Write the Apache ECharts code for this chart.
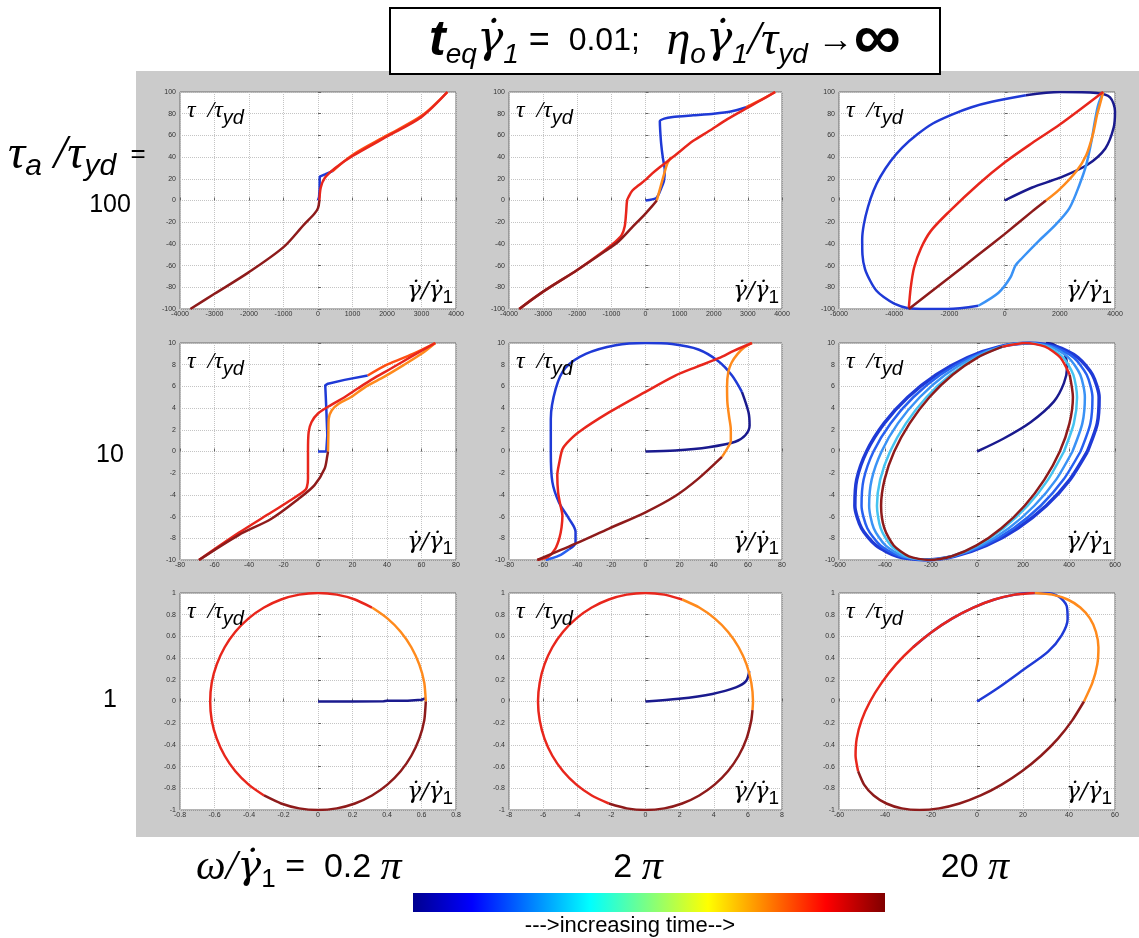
<!DOCTYPE html>
<html>
<head>
<meta charset="utf-8">
<script src="https://cdn.jsdelivr.net/npm/echarts@6/dist/echarts.min.js"></script>
<style>
  html, body { margin: 0; padding: 0; background: #fff; }
  #main { width: 1139px; height: 938px; }
</style>
</head>
<body>
<div id="main"></div>
<script>
// tick ranges [min, max, step] per panel (row-major) and per row for y
var xTicks = [
  [-4000, 4000, 1000], [-4000, 4000, 1000], [-6000, 4000, 2000],
  [-80, 80, 20], [-80, 80, 20], [-600, 600, 200],
  [-0.8, 0.8, 0.2], [-8, 8, 2], [-60, 60, 20]
]
var yTicks = [[-100, 100, 20], [-10, 10, 2], [-1, 1, 0.2]]
var rowLabels = ['100', '10', '1']
var colLabels = ['0.2', '2', '20']

// ---- tau_a = 100 ----
var r1c1_blue = [[0, 0], [30, 3], [45, 10], [50, 22], [200, 24], [420, 27]]
var r1c1_up = [[420, 27], [1000, 42], [2000, 60], [3000, 78], [3750, 100]]
var r1c1_red = [[3750, 100], [3000, 77], [2000, 59], [1000, 41], [500, 30], [200, 21], [80, 12], [40, 0]]
var r1c1_dark = [[40, 0], [0, -7], [-100, -12], [-400, -22], [-1000, -43], [-2000, -66], [-3000, -86], [-3700, -100]]

var r1c2_blue = [[0, 0], [300, 2], [390, 6], [470, 12], [540, 18], [565, 28], [510, 39], [460, 52], [430, 65], [420, 73], [550, 75.5], [800, 77], [1400, 78.5], [2000, 80], [2500, 82], [2950, 86]]
var r1c2_up = [[2950, 86], [3400, 93], [3800, 100]]
var r1c2_orange = [[330, 0], [400, 8], [470, 16], [560, 26], [640, 34], [750, 40]]
var r1c2_red = [[3800, 100], [3300, 91], [2900, 84], [2400, 75], [1860, 64], [1400, 55], [880, 42], [600, 35], [390, 30], [200, 25], [0, 19], [-200, 14], [-390, 9], [-500, 3], [-540, 0], [-570, -12], [-610, -24], [-700, -32], [-880, -38], [-1200, -46], [-2000, -64], [-3000, -84], [-3700, -100]]
var r1c2_dark = [[-3700, -100], [-3000, -84], [-2000, -64], [-1200, -47], [-800, -38], [-400, -25], [0, -12], [200, -5], [330, 0]]

var r1c3_navy = [[0, 0], [1000, 12], [2000, 21], [3000, 33], [3650, 48], [3950, 67], [4000, 82], [3820, 95], [3330, 99], [2000, 100], [770, 97]]
var r1c3_blue = [[770, 97], [-460, 91], [-1200, 86], [-1930, 79], [-2600, 71], [-3160, 61], [-3700, 49], [-4140, 36], [-4500, 22], [-4750, 9], [-4950, -6], [-5100, -22], [-5160, -36], [-5150, -50], [-5060, -63], [-4870, -74], [-4650, -83], [-4380, -89], [-4000, -95], [-3530, -99], [-2800, -100], [-2060, -100], [-950, -97]]
var r1c3_light = [[-950, -97], [-220, -85], [208, -71], [392, -60], [636, -53], [1250, -37], [1860, -22], [2350, -7], [2720, 15], [2960, 33], [3150, 55], [3270, 73], [3390, 88], [3570, 100]]
var r1c3_orange = [[1500, 0], [1980, 10], [2600, 27], [2960, 42], [3200, 61], [3350, 79], [3480, 91], [3570, 100]]
var r1c3_red = [[3570, 100], [2000, 70], [1000, 53], [0, 35], [-950, 15], [-2000, -10], [-2670, -28], [-3030, -44], [-3280, -62], [-3400, -80], [-3470, -99]]
var r1c3_dark = [[-3470, -100], [-2000, -71], [-1000, -51], [0, -31], [1000, -10], [1500, 0]]

// ---- tau_a = 10 ----
var r2c1_blue = [[0, 0], [4.8, 0], [5.4, 1.5], [4.8, 4], [4.2, 6.1], [5.8, 6.25], [15.4, 6.6], [28.8, 7]]
var r2c1_up = [[28.8, 7], [40, 8], [55, 9], [68, 10]]
var r2c1_orange = [[5.8, 0], [6, 1.5], [6.2, 3], [8, 3.8], [12, 4.4], [19, 5], [28, 6], [38.5, 6.9], [50, 8], [60, 9], [68, 10]]
var r2c1_red = [[68, 10], [55.8, 8.9], [42.3, 7.65], [30.8, 6.6], [23, 5.8], [15.4, 5], [7.7, 4.3], [0, 3.5], [-3.8, 2.7], [-5.4, 1.8], [-5.8, 0], [-5.8, -2.5], [-6.5, -3.3], [-7.7, -3.6], [-15, -4.4], [-27, -5.6], [-46, -7.5], [-69, -10]]
var r2c1_dark = [[-69, -10], [-46, -7.7], [-27, -6.2], [-11.5, -4.4], [-2, -3.1], [3.8, -1.6], [5.4, -0.4], [5.8, 0]]

var r2c2_navy = [[0, 0], [17.5, 0.1], [37, 0.4], [52.6, 0.9], [58.5, 1.5], [61, 2.4], [60.4, 3.6], [56.5, 5.5]]
var r2c2_blue = [[56.5, 5.5], [50.7, 7], [42.9, 8.3], [31, 9.4], [15.6, 9.9], [0, 10], [-17.5, 9.8], [-35, 9], [-47, 7.7], [-52.6, 5.8], [-55.5, 3], [-55.5, 0], [-54.6, -2.8], [-50.7, -4.7], [-44.8, -6.2], [-41, -7.4], [-41, -8.4], [-44.8, -9]]
var r2c2_light = [[-44.8, -9], [-50.7, -9.6], [-58.5, -10]]
var r2c2_orange = [[44.8, -0.5], [48, 0.3], [50, 1], [50, 2], [49, 3.2], [48, 4.5], [47.8, 6], [48.5, 7.3], [50.5, 8.2], [54, 9], [58, 9.6], [62.4, 10]]
var r2c2_red = [[62.4, 10], [52, 9.3], [42.9, 8.6], [30, 7.8], [17.5, 7], [0, 5.5], [-21.4, 3.6], [-39, 1.8], [-46, 0.8], [-48.7, 0.2], [-50.5, -1], [-51.7, -2.2], [-51.2, -3.8], [-49.8, -5], [-48.7, -5.9], [-49.2, -7], [-50.5, -8], [-53, -9], [-57, -9.7], [-63.4, -10]]
var r2c2_dark = [[-63.4, -10], [-41, -8.5], [-21.4, -7.1], [0, -5.6], [17.5, -4.1], [31, -2.5], [44.8, -0.5]]

var r2c3_navy = [[0, 0], [116, 1.2], [233, 2.7], [334, 4.6], [378, 6.3], [392, 7.8], [375, 9.2], [330, 9.9], [300, 10]]
var r2c3_loop1 = [[480, 0], [523, 2.59], [531, 5], [502, 7.07], [439, 8.66], [347, 9.66], [230, 10], [98, 9.66], [-41, 8.66], [-177, 7.07], [-301, 5], [-404, 2.59], [-480, 0], [-523, -2.59], [-531, -5], [-502, -7.07], [-439, -8.66], [-347, -9.66], [-230, -10], [-98, -9.66], [41, -8.66], [177, -7.07], [301, -5], [404, -2.59], [480, 0]]
var r2c3_loop2 = [[450, 0], [493, 2.59], [502, 5], [477, 7.07], [420, 8.66], [334, 9.66], [225, 10], [101, 9.66], [-30, 8.66], [-159, 7.07], [-277, 5], [-376, 2.59], [-450, 0], [-493, -2.59], [-502, -5], [-477, -7.07], [-420, -8.66], [-334, -9.66], [-225, -10], [-101, -9.66], [30, -8.66], [159, -7.07], [277, -5], [376, -2.59], [450, 0]]
var r2c3_loop3 = [[415, 0], [458, 2.59], [469, 5], [449, 7.07], [398, 8.66], [320, 9.66], [220, 10], [105, 9.66], [-17, 8.66], [-138, 7.07], [-249, 5], [-344, 2.59], [-415, 0], [-458, -2.59], [-469, -5], [-449, -7.07], [-398, -8.66], [-320, -9.66], [-220, -10], [-105, -9.66], [17, -8.66], [138, -7.07], [249, -5], [344, -2.59], [415, 0]]
var r2c3_loop4 = [[378, 0], [421, 2.59], [435, 5], [419, 7.07], [375, 8.66], [306, 9.66], [215, 10], [110, 9.66], [-3, 8.66], [-115, 7.07], [-220, 5], [-309, 2.59], [-378, 0], [-421, -2.59], [-435, -5], [-419, -7.07], [-375, -8.66], [-306, -9.66], [-215, -10], [-110, -9.66], [3, -8.66], [115, -7.07], [220, -5], [309, -2.59], [378, 0]]
var r2c3_red = [[403, 7.07], [362, 8.66], [296, 9.66], [210, 10], [110, 9.66]]
var r2c3_dark = [[110, 9.66], [2, 8.66], [-106, 7.07], [-207, 5], [-293, 2.59], [-360, 0], [-402, -2.59], [-417, -5], [-403, -7.07], [-362, -8.66], [-296, -9.66], [-210, -10], [-110, -9.66], [-2, -8.66], [106, -7.07], [207, -5], [293, -2.59], [360, 0], [402, 2.59], [417, 5], [403, 7.07]]

// ---- tau_a = 1 ----
var r3c1_blue = [[0, 0], [0.2, 0], [0.38, 0.002], [0.4, 0.006], [0.52, 0.008], [0.56, 0.012], [0.6, 0.016], [0.625, 0.03]]
var r3c1_orange = [[0.625, 0], [0.616, 0.174], [0.587, 0.342], [0.541, 0.5], [0.479, 0.643], [0.402, 0.766], [0.313, 0.866]]
var r3c1_red = [[0.313, 0.866], [0.214, 0.94], [0.109, 0.985], [0, 1], [-0.109, 0.985], [-0.214, 0.94], [-0.313, 0.866], [-0.402, 0.766], [-0.479, 0.643], [-0.541, 0.5], [-0.587, 0.342], [-0.616, 0.174], [-0.625, 0], [-0.616, -0.174], [-0.587, -0.342], [-0.541, -0.5], [-0.479, -0.643], [-0.402, -0.766], [-0.313, -0.866]]
var r3c1_dark = [[-0.313, -0.866], [-0.214, -0.94], [-0.109, -0.985], [0, -1], [0.109, -0.985], [0.214, -0.94], [0.313, -0.866], [0.402, -0.766], [0.479, -0.643], [0.541, -0.5], [0.587, -0.342], [0.616, -0.174], [0.625, 0]]

var r3c2_blue = [[0, 0], [1.96, 0.025], [3.92, 0.07], [5.3, 0.13], [5.9, 0.19], [6.08, 0.28]]
var r3c2_orange = [[6.27, -0.08], [6.3, 0], [6.2, 0.174], [5.92, 0.342], [5.46, 0.5], [4.83, 0.643], [4.05, 0.766], [3.15, 0.866], [2.15, 0.94]]
var r3c2_red = [[2.15, 0.94], [1.1, 0.985], [0, 1], [-1.1, 0.985], [-2.15, 0.94], [-3.15, 0.866], [-4.05, 0.766], [-4.83, 0.643], [-5.46, 0.5], [-5.92, 0.342], [-6.2, 0.174], [-6.3, 0], [-6.2, -0.174], [-5.92, -0.342], [-5.46, -0.5], [-4.83, -0.643], [-4.05, -0.766], [-3.15, -0.866], [-2.15, -0.94]]
var r3c2_dark = [[-2.15, -0.94], [-1.1, -0.985], [0, -1], [1.1, -0.985], [2.15, -0.94], [3.15, -0.866], [4.05, -0.766], [4.83, -0.643], [5.46, -0.5], [5.92, -0.342], [6.2, -0.174], [6.27, -0.08]]

var r3c3_blue = [[0, 0], [8.8, 0.12], [20.6, 0.3], [30.9, 0.46], [36.8, 0.61], [39.4, 0.76], [39, 0.88], [35.3, 0.97], [29.4, 1], [22, 1], [16.5, 0.985], [7.6, 0.94], [-1.6, 0.866], [-10.7, 0.766], [-19.5, 0.643], [-27.8, 0.5]]
var r3c3_orange = [[46.5, 0], [50.2, 0.174], [52.3, 0.342], [52.8, 0.5], [51.7, 0.643], [49.1, 0.766], [44.9, 0.866], [39.4, 0.94], [32.7, 0.985], [25, 1]]
var r3c3_red = [[25, 1], [16.5, 0.985], [7.6, 0.94], [-1.6, 0.866], [-10.7, 0.766], [-19.5, 0.643], [-27.8, 0.5], [-35.2, 0.342], [-41.4, 0.174], [-46.5, 0], [-50.2, -0.174], [-52.3, -0.342], [-52.8, -0.5], [-51.7, -0.643]]
var r3c3_dark = [[-51.7, -0.643], [-49.1, -0.766], [-44.9, -0.866], [-39.4, -0.94], [-32.7, -0.985], [-25, -1], [-16.5, -0.985], [-7.6, -0.94], [1.6, -0.866], [10.7, -0.766], [19.5, -0.643], [27.8, -0.5], [35.2, -0.342], [41.4, -0.174], [46.5, 0]]

var C = {
  navy: '#1a1a8e', blue: '#1f3ad6', blue2: '#2760f0', lblue: '#3a92f5', cyan: '#45c3f0',
  orange: '#ff8a1c', orangered: '#ff4f12', red: '#e8261c', dark: '#8e1b1b'
}

// [data, color, smooth, width]
var panelLines = [
  [[r1c1_blue, C.blue, 0], [r1c1_up, C.orangered, 0.3], [r1c1_red, C.red, 0.3], [r1c1_dark, C.dark, 0.3]],
  [[r1c2_blue, C.blue, 0.2], [r1c2_up, C.orangered, 0.3], [r1c2_orange, C.orange, 0.3], [r1c2_red, C.red, 0.3], [r1c2_dark, C.dark, 0.3]],
  [[r1c3_navy, C.navy, 0.3], [r1c3_blue, C.blue, 0.3], [r1c3_light, C.lblue, 0.3], [r1c3_orange, C.orange, 0.3], [r1c3_red, C.red, 0.3], [r1c3_dark, C.dark, 0.2]],
  [[r2c1_blue, C.blue, 0], [r2c1_up, C.orangered, 0.3], [r2c1_orange, C.orange, 0.3], [r2c1_red, C.red, 0.3], [r2c1_dark, C.dark, 0.3]],
  [[r2c2_navy, C.navy, 0.3], [r2c2_blue, C.blue, 0.3], [r2c2_light, C.blue2, 0.3], [r2c2_orange, C.orange, 0.3], [r2c2_red, C.red, 0.3], [r2c2_dark, C.dark, 0.3]],
  [[r2c3_navy, C.navy, 0.3], [r2c3_loop1, C.blue, 0.25, 3.5], [r2c3_loop2, C.blue2, 0.25], [r2c3_loop3, C.lblue, 0.25], [r2c3_loop4, C.cyan, 0.25], [r2c3_red, C.red, 0.25], [r2c3_dark, C.dark, 0.25]],
  [[r3c1_blue, C.navy, 0], [r3c1_orange, C.orange, 0.2], [r3c1_red, C.red, 0.2], [r3c1_dark, C.dark, 0.2]],
  [[r3c2_blue, C.navy, 0.3], [r3c2_orange, C.orange, 0.2], [r3c2_red, C.red, 0.2], [r3c2_dark, C.dark, 0.2]],
  [[r3c3_blue, C.blue, 0.3], [r3c3_orange, C.orange, 0.2], [r3c3_red, C.red, 0.2], [r3c3_dark, C.dark, 0.2]]
]

// layout
var colLeft = [180, 509, 839]
var colWidth = [276, 273, 276]
var rowTop = [92, 343, 593]
var rowHeight = 217

var chart = echarts.init(document.getElementById('main'))

var grids = [], xAxes = [], yAxes = [], series = []
var graphics = [
  { type: 'rect', z: -10, shape: { x: 136, y: 71, width: 1003, height: 766 }, style: { fill: '#cbcbcb' } },
  { type: 'rect', z: 5, shape: { x: 390, y: 8, width: 550, height: 66 }, style: { fill: '#fff', stroke: '#000', lineWidth: 2 } }
]

var greek = "'Liberation Serif', 'DejaVu Serif', serif"
var dotted = "'DejaVu Serif', 'Liberation Serif', serif"
var sans = "'Liberation Sans', 'DejaVu Sans', sans-serif"
var tickFmt = function (v) { return String(+v.toFixed(6)) }

for (var i = 0; i < 9; i++) {
  var r = Math.floor(i / 3), c = i % 3
  var L = colLeft[c], T = rowTop[r], W = colWidth[c], H = rowHeight
  grids.push({
    left: L, top: T, width: W, height: H, show: true,
    backgroundColor: '#fff', borderColor: '#6a6a6a', borderWidth: 1
  })
  xAxes.push({
    gridIndex: i, type: 'value', min: xTicks[i][0], max: xTicks[i][1], interval: xTicks[i][2],
    axisLine: { show: false },
    axisTick: { inside: true, length: 3, lineStyle: { color: '#666' } },
    axisLabel: { fontSize: 7, color: '#333', margin: 2, fontFamily: sans, formatter: tickFmt },
    splitLine: { show: true, lineStyle: { color: '#c4c4c4', type: 'dotted', width: 1 } }
  })
  yAxes.push({
    gridIndex: i, type: 'value', min: yTicks[r][0], max: yTicks[r][1], interval: yTicks[r][2],
    axisLine: { show: false },
    axisTick: { inside: true, length: 3, lineStyle: { color: '#666' } },
    axisLabel: { fontSize: 7, color: '#333', margin: 4, fontFamily: sans, formatter: tickFmt },
    splitLine: { show: true, lineStyle: { color: '#c4c4c4', type: 'dotted', width: 1 } }
  })
  panelLines[i].forEach(function (ln) {
    series.push({
      type: 'line', xAxisIndex: i, yAxisIndex: i, data: ln[0],
      showSymbol: false, smooth: ln[2], silent: true,
      lineStyle: { color: ln[1], width: ln[3] || 2.5 }
    })
  })
  // in-plot axis titles
  graphics.push({
    type: 'text', z: 10, x: L + 7, y: T + 2,
    style: {
      text: '{g|τ  /τ}{s|yd}',
      rich: {
        g: { fontSize: 24, fontStyle: 'italic', fontFamily: greek, lineHeight: 34, verticalAlign: 'middle', fill: '#000' },
        s: { fontSize: 20, fontStyle: 'italic', fontFamily: sans, lineHeight: 16, verticalAlign: 'bottom', fill: '#000' }
      }
    }
  })
  graphics.push({
    type: 'text', z: 10, x: L + W - 3, y: T + H - 2,
    style: {
      text: '{g|\u03B3\u0307/\u03B3\u0307}{s|1}', align: 'right', verticalAlign: 'bottom',
      rich: {
        g: { fontSize: 23, fontStyle: 'italic', fontFamily: dotted, lineHeight: 32, verticalAlign: 'middle', fill: '#000' },
        s: { fontSize: 19, fontFamily: sans, lineHeight: 14, verticalAlign: 'bottom', fill: '#000' }
      }
    }
  })
}

// title
graphics.push({
  type: 'text', z: 10, x: 665, y: 41,
  style: {
    text: '{t|t}{s|eq}{d|\u03B3\u0307}{s|1}{n| = }{m| 0.01;   }{g|\u03B7}{s|o}{d|\u03B3\u0307}{s|1}{g|/\u03C4}{s|yd}{a| \u2192}{b|\u221E}',
    align: 'center', verticalAlign: 'middle',
    rich: {
      t: { fontSize: 50, fontStyle: 'italic', fontWeight: 'bold', fontFamily: sans, lineHeight: 56, verticalAlign: 'middle', fill: '#000' },
      g: { fontSize: 48, fontStyle: 'italic', fontFamily: greek, lineHeight: 56, verticalAlign: 'middle', fill: '#000' },
      d: { fontSize: 44, fontStyle: 'italic', fontFamily: dotted, lineHeight: 56, verticalAlign: 'middle', fill: '#000' },
      s: { fontSize: 28, fontStyle: 'italic', fontFamily: sans, lineHeight: 26, verticalAlign: 'bottom', fill: '#000' },
      n: { fontSize: 36, fontFamily: sans, lineHeight: 56, verticalAlign: 'middle', fill: '#000' },
      m: { fontSize: 32, fontFamily: sans, lineHeight: 56, verticalAlign: 'middle', fill: '#000' },
      a: { fontSize: 36, fontWeight: 'bold', fontFamily: sans, lineHeight: 56, verticalAlign: 'middle', fill: '#000' },
      b: { fontSize: 66, fontWeight: 'bold', fontFamily: sans, lineHeight: 56, verticalAlign: 'middle', fill: '#000' }
    }
  }
})

// row labels
graphics.push({
  type: 'text', z: 10, x: 8, y: 155,
  style: {
    text: '{g|\u03C4}{s|a}{g| /\u03C4}{s|yd}{e|  =}', verticalAlign: 'middle',
    rich: {
      g: { fontSize: 48, fontStyle: 'italic', fontFamily: greek, lineHeight: 54, verticalAlign: 'middle', fill: '#000' },
      s: { fontSize: 30, fontStyle: 'italic', fontFamily: sans, lineHeight: 24, verticalAlign: 'bottom', fill: '#000' },
      e: { fontSize: 26, fontFamily: sans, lineHeight: 54, verticalAlign: 'middle', fill: '#000' }
    }
  }
})
var rowLabelY = [205, 455, 700]
rowLabels.forEach(function (t, k) {
  graphics.push({
    type: 'text', z: 10, x: 110, y: rowLabelY[k],
    style: { text: t, align: 'center', verticalAlign: 'middle', font: '25px ' + sans, fill: '#000' }
  })
})

// column labels
var colRich = {
  g: { fontSize: 42, fontStyle: 'italic', fontFamily: greek, lineHeight: 50, verticalAlign: 'middle', fill: '#000' },
  d: { fontSize: 40, fontStyle: 'italic', fontFamily: dotted, lineHeight: 50, verticalAlign: 'middle', fill: '#000' },
  s: { fontSize: 26, fontFamily: sans, lineHeight: 22, verticalAlign: 'bottom', fill: '#000' },
  n: { fontSize: 34, fontFamily: sans, lineHeight: 50, verticalAlign: 'middle', fill: '#000' }
}
graphics.push({
  type: 'text', z: 10, x: 196, y: 868,
  style: { text: '{g|\u03C9/}{d|\u03B3\u0307}{s|1}{n| =  ' + colLabels[0] + ' }{g|\u03C0}', verticalAlign: 'middle', rich: colRich }
})
graphics.push({
  type: 'text', z: 10, x: 638, y: 868,
  style: { text: '{n|' + colLabels[1] + ' }{g|\u03C0}', align: 'center', verticalAlign: 'middle', rich: colRich }
})
graphics.push({
  type: 'text', z: 10, x: 975, y: 868,
  style: { text: '{n|' + colLabels[2] + ' }{g|\u03C0}', align: 'center', verticalAlign: 'middle', rich: colRich }
})

// colour bar
graphics.push({
  type: 'rect', z: 10, shape: { x: 413, y: 893, width: 472, height: 19 },
  style: {
    fill: new echarts.graphic.LinearGradient(0, 0, 1, 0, [
      { offset: 0, color: '#00008f' }, { offset: 0.125, color: '#0000ff' },
      { offset: 0.375, color: '#00ffff' }, { offset: 0.625, color: '#ffff00' },
      { offset: 0.875, color: '#ff0000' }, { offset: 1, color: '#800000' }
    ])
  }
})
graphics.push({
  type: 'text', z: 10, x: 630, y: 926,
  style: { text: '--->increasing time-->', align: 'center', verticalAlign: 'middle', font: '22px ' + sans, fill: '#000' }
})

chart.setOption({
  animation: false,
  backgroundColor: '#fff',
  grid: grids,
  xAxis: xAxes,
  yAxis: yAxes,
  series: series,
  graphic: graphics
})
</script>
</body>
</html>
